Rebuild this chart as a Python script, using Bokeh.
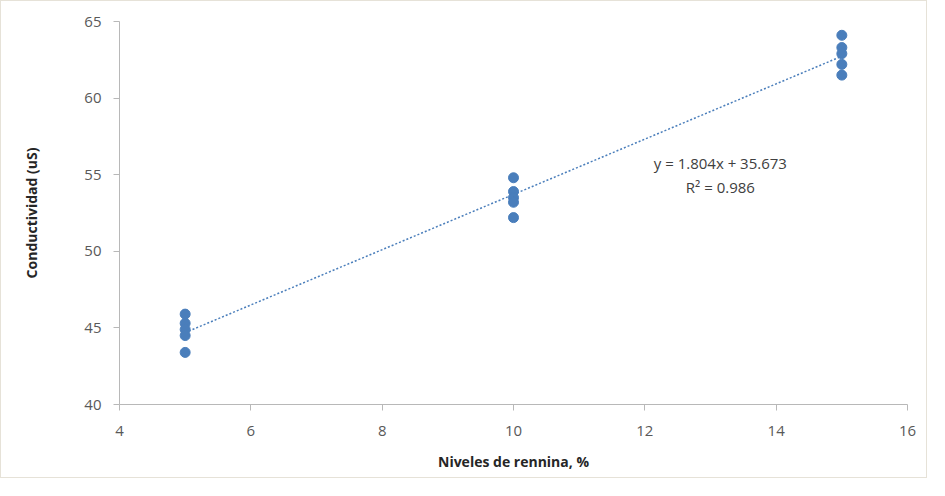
from bokeh.plotting import figure
from bokeh.models import Range1d, FixedTicker, Label, ColumnDataSource
from bokeh.embed import file_html
from bokeh.resources import INLINE

# data
renina_5 = [5, 5, 5, 5, 5]
cond_5 = [45.9, 45.3, 44.9, 44.5, 43.4]
renina_10 = [10, 10, 10, 10, 10]
cond_10 = [54.8, 53.9, 53.5, 53.2, 52.2]
renina_15 = [15, 15, 15, 15, 15]
cond_15 = [64.1, 63.3, 62.9, 62.2, 61.5]

slope = 1.804
intercept = 35.673
r2 = 0.986
trend_x = [5, 15]

x_ticks = [4, 6, 8, 10, 12, 14, 16]
y_ticks = [40, 45, 50, 55, 60, 65]

xs = renina_5 + renina_10 + renina_15
ys = cond_5 + cond_10 + cond_15
trend_y = [slope * v + intercept for v in trend_x]

p = figure(width=927, height=478, output_backend="svg", toolbar_location=None,
           x_range=Range1d(4, 16), y_range=Range1d(40, 65))
p.min_border_left = 118
p.min_border_top = 20
p.min_border_right = 21
p.min_border_bottom = 75
p.styles = {"border": "1px solid #e6e2d8"}
p.outline_line_color = None
p.background_fill_color = "white"
p.border_fill_color = "white"
p.xgrid.visible = False
p.ygrid.visible = False

p.line(trend_x, trend_y, line_color="#4a7ebb", line_dash="2 2", line_width=1.5)
src = ColumnDataSource(dict(x=xs, y=ys))
p.scatter("x", "y", source=src, size=10, fill_color="#4a7ebb", line_color="#4a7ebb")

font = "Open Sans"
for ax in (p.xaxis[0], p.yaxis[0]):
    ax.axis_line_color = "#b8b8b8"
    ax.major_tick_line_color = "#b8b8b8"
    ax.major_tick_in = 0
    ax.major_tick_out = 6
    ax.minor_tick_line_color = None
    ax.major_label_text_font = font
    ax.major_label_text_font_size = "15px"
    ax.major_label_text_color = "#595959"
    ax.axis_label_text_font = font
    ax.axis_label_text_font_size = "14px"
    ax.axis_label_text_font_style = "bold"
    ax.axis_label_text_color = "#262626"

p.xaxis.ticker = FixedTicker(ticks=x_ticks)
p.yaxis.ticker = FixedTicker(ticks=y_ticks)
p.xaxis.axis_label = "Niveles de rennina, %"
p.yaxis.axis_label = "Conductividad (uS)"
p.xaxis.major_label_standoff = 15
p.yaxis.major_label_standoff = 12
p.xaxis.axis_label_standoff = 13
p.yaxis.axis_label_standoff = 40

p.add_layout(Label(x=13.15, y=55.75, text="y = %.3fx + %.3f" % (slope, intercept),
                   text_align="center", text_baseline="middle", text_font=font,
                   text_font_size="15px", text_color="#404040"))
p.add_layout(Label(x=13.15, y=54.2, text="R² = %.3f" % r2,
                   text_align="center", text_baseline="middle", text_font=font,
                   text_font_size="15px", text_color="#404040"))

open("out.html", "w").write(file_html(p, INLINE))
